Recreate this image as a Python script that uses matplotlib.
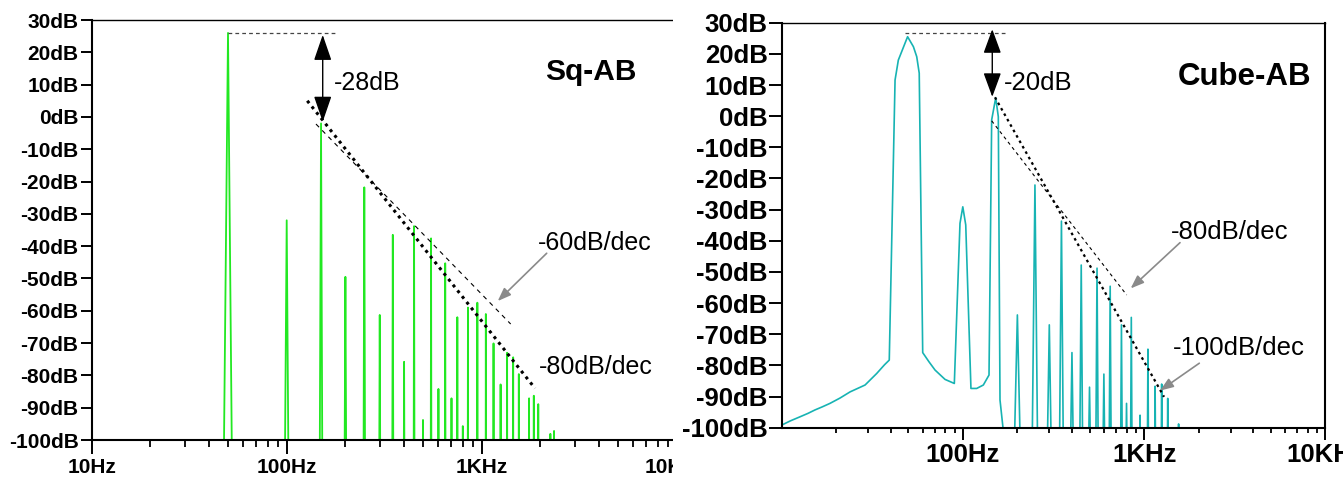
import matplotlib
matplotlib.use("Agg")
import matplotlib.pyplot as plt
from matplotlib.patches import Rectangle
from matplotlib.ticker import FixedLocator, NullFormatter

plt.rcParams['font.family'] = ['Liberation Sans', 'DejaVu Sans']

# ---------------- data: Sq-AB (left) ----------------
sq_freq = [50, 100, 150, 200, 250, 300, 350, 400, 450, 500, 550, 600, 650, 700,
           750, 800, 850, 950, 1050, 1150, 1250, 1350, 1450, 1550, 1750, 1850,
           1950, 2250, 2350]
sq_db = [26, -32, -2, -49.5, -21.8, -61.3, -36.5, -75.8, -33.8, -93.8, -37.6,
         -84.2, -45.3, -87.1, -62, -95.7, -59, -57.5, -61, -70.1, -82.8, -73,
         -74.4, -79.6, -87.1, -86.3, -88.9, -98.1, -97.2]

# ---------------- data: Cube-AB (right) ----------------
cube_curve_freq = [10, 11.2, 12.65, 14, 15.3, 16.8, 18.5, 21, 23.9, 28.9, 33.5,
                   37, 39.3, 42.3, 44.1, 49.6, 53.4, 55.7, 57.5, 60.1, 65, 70.3,
                   79.8, 89.8, 96.5, 100, 103.8, 110.9, 119.3, 129.8, 139.5,
                   144.3, 151.9, 157, 160.4, 167.3]
cube_curve_db = [-99.2, -97.8, -96.5, -95.4, -94.3, -93.3, -92.2, -90.5, -88.5,
                 -86.3, -82.6, -79.8, -78.3, 11.6, 18, 25.5, 22.3, 19.1, 13.8,
                 -75.9, -78.8, -81.5, -84.5, -85.8, -34.4, -29.1, -34.9, -87.4,
                 -87.4, -86.3, -83.1, -1.2, 5.9, -0.2, -91.1, -101]
cube_freq = [200, 250, 300, 350, 400, 450, 500, 550, 600, 650, 750, 800, 850,
             950, 1050, 1150, 1250, 1350, 1550]
cube_db = [-63.8, -22.1, -67, -33.7, -75.9, -47.8, -87, -48.8, -82.8, -54.6,
           -67, -92.2, -64.6, -96, -74.8, -86.7, -86, -90.6, -98.8]

y_ticks = list(range(-100, 31, 10))
y_labels = [f"{v}dB" for v in y_ticks]
x_ticks_left = [10, 100, 1000, 10000]
x_labels_left = ["10Hz", "100Hz", "1KHz", "10KHz"]
x_ticks_right = [100, 1000, 10000]
x_labels_right = ["100Hz", "1KHz", "10KHz"]
minor_ticks = [m * d for d in (10, 100, 1000) for m in range(2, 10)]

# guide lines (freq, dB)
sq_ref_level = ([50, 182], [26.1, 26.1])
sq_gap_arrow = (153, 25.4, -1.5)
sq_slope80 = ([127.5, 1876], [5.0, -84.0])
sq_slope60 = ([141.3, 1408], [-2.2, -64.1])
sq_arrow60 = ((2154, -42.2), (1208, -57.0))

cube_ref_level = ([48, 178], [26.6, 26.6])
cube_gap_arrow = (145.4, 27.9, 6.2)
cube_slope100 = ([150.5, 1288], [6.05, -90.1])
cube_slope80 = ([144.3, 801.6], [-1.5, -57.4])
cube_arrow80 = ((1578, -40.6), (843, -55.3))
cube_arrow100 = ((2016, -79.3), (1224, -88.1))

GREEN = '#22e822'
TEAL = '#17b3b3'


def spikes(freqs, peaks, delta, floor):
    xs, ys = [], []
    for f, p in zip(freqs, peaks):
        xs += [f - delta, f, f + delta]
        ys += [floor, p, floor]
    return xs, ys


W, H = 1343, 479
fig = plt.figure(figsize=(W / 100, H / 100), dpi=100)


def rect(x0, x1, ytop, ybot):
    return [x0 / W, 1 - ybot / H, (x1 - x0) / W, (ybot - ytop) / H]


axL = fig.add_axes(rect(91.7, 676.7, 20, 440))
axR = fig.add_axes(rect(781.5, 1325.4, 22.7, 427.7))
axL.set_zorder(0)
axR.set_zorder(2)
mask = Rectangle((673 / W, 0), (W - 673) / W, 1, transform=fig.transFigure,
                 facecolor='white', edgecolor='none', zorder=1)
fig.add_artist(mask)


def style(ax, xt, xl, tsize, ylen, xmaj, xmin, ypad, xpad):
    ax.set_xscale('log')
    ax.set_xlim(10, 10000)
    ax.set_ylim(-100, 30)
    ax.set_yticks(y_ticks)
    ax.set_yticklabels(y_labels, fontsize=tsize, fontweight='bold')
    ax.xaxis.set_major_locator(FixedLocator(xt))
    ax.set_xticklabels(xl, fontsize=tsize, fontweight='bold')
    ax.xaxis.set_minor_locator(FixedLocator(minor_ticks))
    ax.xaxis.set_minor_formatter(NullFormatter())
    ax.tick_params(axis='y', direction='out', length=ylen, width=1.4, pad=ypad)
    ax.tick_params(axis='x', which='major', direction='out', length=xmaj,
                   width=1.4, pad=xpad)
    ax.tick_params(axis='x', which='minor', direction='out', length=xmin,
                   width=1.3)
    for s in ('left', 'bottom'):
        ax.spines[s].set_linewidth(1.5)
    ax.spines['top'].set_linewidth(1.0)


# ---------------- left panel ----------------
style(axL, x_ticks_left, x_labels_left, 15, 8, 10, 5, 1.5, 2.7)
axL.spines['right'].set_visible(False)
sx, sy = spikes(sq_freq, sq_db, 3, -140)
axL.plot(sx, sy, color=GREEN, lw=1.3)
axL.plot(*sq_ref_level, color='#444444', lw=0.9, ls=(0, (3, 2.5)))
axL.plot(*sq_slope80, color='black', lw=2.2, ls=(0, (1, 1.4)))
axL.plot(*sq_slope60, color='black', lw=0.8, ls=(0, (4, 4)))
axL.annotate('', xy=(sq_gap_arrow[0], sq_gap_arrow[2]),
             xytext=(sq_gap_arrow[0], sq_gap_arrow[1]),
             arrowprops=dict(arrowstyle='<|-|>,head_length=1.6,head_width=0.55',
                             mutation_scale=10, color='black', lw=1,
                             shrinkA=0, shrinkB=0))
axL.annotate('', xy=sq_arrow60[1], xytext=sq_arrow60[0],
             arrowprops=dict(arrowstyle='-|>,head_length=0.8,head_width=0.3',
                             mutation_scale=10, color='#8a8a8a', lw=1.2,
                             shrinkA=0, shrinkB=0))
axL.text(175, 10.4, '-28dB', fontsize=18, ha='left', va='center')
axL.text(2111, 14.0, 'Sq-AB', fontsize=21.5, fontweight='bold', ha='left',
         va='center')
axL.text(1950, -39.1, '-60dB/dec', fontsize=18, ha='left', va='center')
axL.text(1975, -77.3, '-80dB/dec', fontsize=18, ha='left', va='center')

# ---------------- right panel ----------------
style(axR, x_ticks_right, x_labels_right, 18.5, 9.5, 8.5, 3.6, 0.5, 2.6)
axR.spines['right'].set_linewidth(1.5)
axR.plot(cube_curve_freq, cube_curve_db, color=TEAL, lw=1.2)
cx, cy = spikes(cube_freq, cube_db, 10, -120)
axR.plot(cx, cy, color=TEAL, lw=1.2)
axR.plot(*cube_ref_level, color='#444444', lw=0.9, ls=(0, (3, 2.5)))
axR.plot(*cube_slope100, color='black', lw=1.6, ls=(0, (1.2, 1.6)))
axR.plot(*cube_slope80, color='black', lw=0.8, ls=(0, (3, 3)))
axR.annotate('', xy=(cube_gap_arrow[0], cube_gap_arrow[2]),
             xytext=(cube_gap_arrow[0], cube_gap_arrow[1]),
             arrowprops=dict(arrowstyle='<|-|>,head_length=1.5,head_width=0.55',
                             mutation_scale=10, color='black', lw=1,
                             shrinkA=0, shrinkB=0))
for a in (cube_arrow80, cube_arrow100):
    axR.annotate('', xy=a[1], xytext=a[0],
                 arrowprops=dict(arrowstyle='-|>,head_length=0.8,head_width=0.3',
                                 mutation_scale=10, color='#8a8a8a', lw=1.2,
                                 shrinkA=0, shrinkB=0))
axR.text(169.4, 10.5, '-20dB', fontsize=18.5, ha='left', va='center')
axR.text(1524, 12.7, 'Cube-AB', fontsize=22.5, fontweight='bold', ha='left',
         va='center')
axR.text(1402, -37.1, '-80dB/dec', fontsize=18.5, ha='left', va='center')
axR.text(1449, -74.5, '-100dB/dec', fontsize=18.5, ha='left', va='center')

fig.savefig('out.png', dpi=100)
